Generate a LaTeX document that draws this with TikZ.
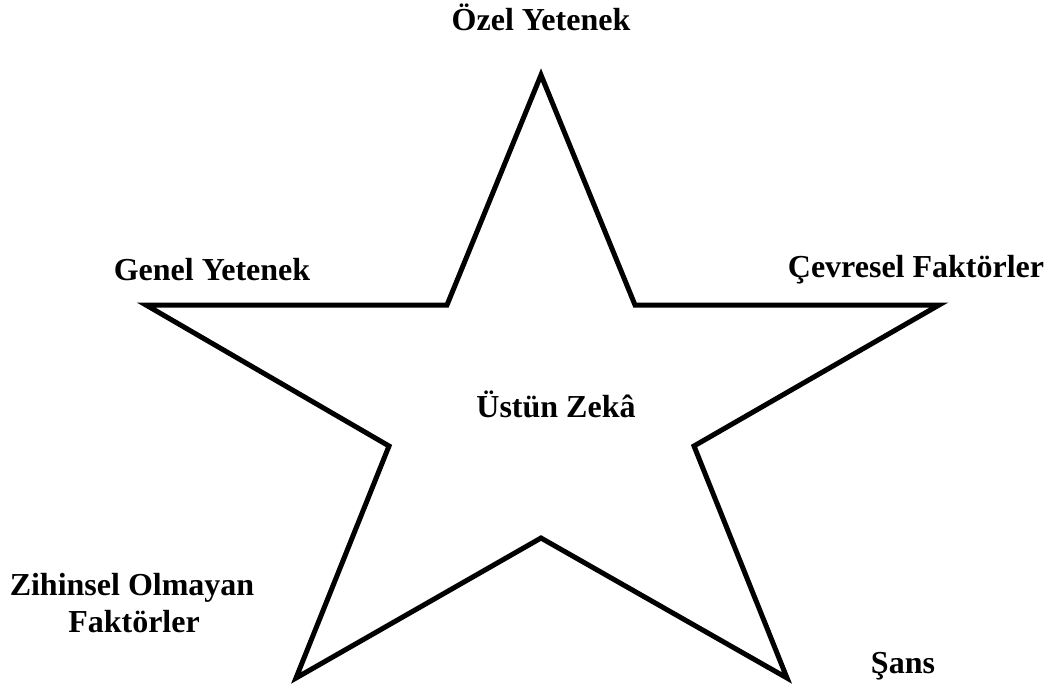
\documentclass[tikz,border=0pt]{standalone}
\usepackage{fontspec}
\setmainfont{Liberation Serif}
\begin{document}
\begin{tikzpicture}[x=1pt,y=-1pt,
  lbl/.style={font=\fontsize{32}{37}\selectfont\bfseries, inner sep=0pt, anchor=base},
  starline/.style={line width=5pt, line join=miter, draw=black}]
\useasboundingbox (0,0) rectangle (1056,691);
% star vertices
\coordinate (top) at (541,75);
\coordinate (itr) at (635,305);
\coordinate (rgt) at (939,305);
\coordinate (irt) at (694,446);
\coordinate (br)  at (787,678);
\coordinate (ibt) at (541,538);
\coordinate (bl)  at (296,678);
\coordinate (ilt) at (389,446);
\coordinate (lft) at (146,305);
\coordinate (itl) at (447,305);
\draw[starline] (top) -- (itr) -- (rgt) -- (irt) -- (br) -- (ibt) -- (bl) -- (ilt) -- (lft) -- (itl) -- cycle;
% labels
\node[lbl] (ozel) at (541,30) {Özel Yetenek};
\node[lbl] (genel) at (212,280) {Genel Yetenek};
\node[lbl] (cevre) at (916,277) {Çevresel Faktörler};
\node[lbl] (ustun) at (556,417) {Üstün Zekâ};
\node[lbl] (zih1) at (132,595) {Zihinsel Olmayan};
\node[lbl] (zih2) at (134,632) {Faktörler};
\node[lbl] (sans) at (903,673) {Şans};
\end{tikzpicture}
\end{document}
